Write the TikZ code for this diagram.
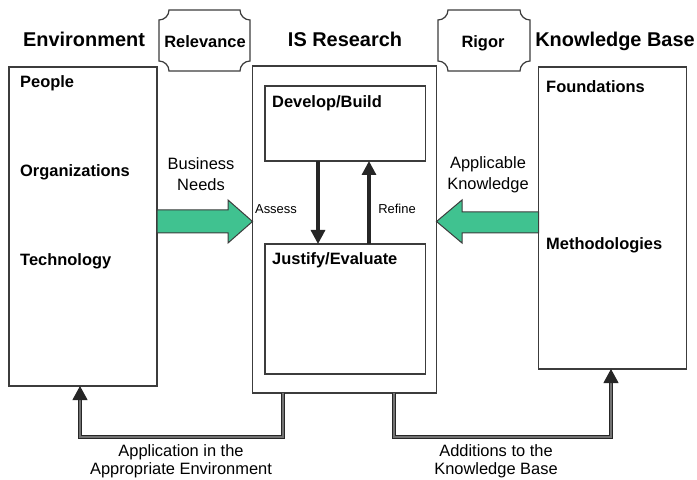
\documentclass[tikz,border=0pt]{standalone}
\usepackage{fontspec}
\setmainfont{Liberation Sans}
\usetikzlibrary{arrows.meta}
\definecolor{arrowgreen}{RGB}{64,194,144}
\definecolor{linegray}{RGB}{60,60,60}
\newcommand\tagshape[4]{\draw[tag] (#1+10,#2) -- (#3-10,#2) arc[start angle=180,end angle=90,radius=10] -- (#3,#4-10) arc[start angle=270,end angle=180,radius=10] -- (#1+10,#4) arc[start angle=0,end angle=-90,radius=10] -- (#1,#2+10) arc[start angle=90,end angle=0,radius=10] -- cycle;}
\begin{document}
\begin{tikzpicture}[x=1bp,y=-1bp,
  box/.style={draw=linegray, line width=1.4bp, inner sep=0pt, outer sep=0pt},
  tag/.style={draw=linegray, line width=1.2bp, fill=white},
  lbl/.style={font=\fontsize{16.5}{18}\selectfont\bfseries, inner sep=0pt},
  title/.style={font=\fontsize{20}{22}\selectfont\bfseries, inner sep=0pt, anchor=base},
  plain/.style={font=\fontsize{16.5}{18.5}\selectfont, inner sep=0pt, align=center},
  airy/.style={font=\fontsize{16.5}{21}\selectfont, inner sep=0pt, align=center},
  small/.style={font=\fontsize{13}{15}\selectfont, inner sep=0pt, anchor=base},
  fatarrow/.style={fill=arrowgreen, draw=linegray, line width=1bp},
  inner/.style={draw=black!85, line width=3.2bp, -{Triangle[length=14bp,width=14bp]}},
  conn/.style={draw=black!85, double=black!55, double distance=1.2bp, line width=1bp, -{Triangle[length=14bp,width=15bp]}},
]
\useasboundingbox (0,0) rectangle (697,480);
% boxes
\node[box, minimum width=148bp, minimum height=319bp] (env) at (83,226.5) {};
\node[box, minimum width=184bp, minimum height=327bp] (isr) at (344.5,229.5) {};
\node[box, minimum width=160.5bp, minimum height=75bp] (dev) at (345.25,123.5) {};
\node[box, minimum width=160.5bp, minimum height=130bp] (just) at (345.25,309) {};
\node[box, minimum width=148bp, minimum height=302bp] (kb) at (612.5,218) {};
% tag boxes
\tagshape{159}{10}{250}{71}
\tagshape{438}{10}{530}{71}
\node[lbl, anchor=base] (rel) at (205,48) {Relevance};
\node[lbl, anchor=base] (rig) at (483,48) {Rigor};
% titles
\node[title] (tenv) at (84,47) {Environment};
\node[title] (tisr) at (345,47) {IS Research};
\node[title] (tkb) at (615,47) {Knowledge Base};
% labels in boxes
\node[lbl, anchor=base west] (people) at (20,88) {People};
\node[lbl, anchor=base west] (org) at (20,177) {Organizations};
\node[lbl, anchor=base west] (tech) at (20,266) {Technology};
\node[lbl, anchor=base west] (found) at (546,93) {Foundations};
\node[lbl, anchor=base west] (meth) at (546,250) {Methodologies};
\node[lbl, anchor=base west] (tdev) at (272,108) {Develop/Build};
\node[lbl, anchor=base west] (tjust) at (272,265) {Justify/Evaluate};
% green arrows
\draw[fatarrow] (env.east |- 0,210) -- (228,210) -- (228,200) -- (isr.west |- 0,221.5) -- (228,243) -- (228,233) -- (env.east |- 0,233) -- cycle;
\draw[fatarrow] (kb.west |- 0,212) -- (462,212) -- (462,200) -- (isr.east |- 0,221.5) -- (462,243) -- (462,233) -- (kb.west |- 0,233) -- cycle;
\node[airy] (bn) at (201,174.5) {Business\\Needs};
\node[airy] (ak) at (488,174.5) {Applicable\\Knowledge};
% inner arrows
\coordinate (ax) at (318,0);
\coordinate (rx) at (369,0);
\draw[inner] (dev.south -| ax) -- (just.north -| ax);
\draw[inner] (just.north -| rx) -- (dev.south -| rx);
\node[small] (assess) at (276,214) {Assess};
\node[small] (refine) at (397,214) {Refine};
% bottom connectors
\coordinate (c1) at (283,0);
\coordinate (c2) at (80,437);
\coordinate (c3) at (394,0);
\coordinate (c4) at (611,437);
\draw[conn] (isr.south -| c1) |- (c2) -- (env.south -| c2);
\draw[conn] (isr.south -| c3) |- (c4) -- (kb.south -| c4);
\node[plain] (app) at (181,461) {Application in the\\Appropriate Environment};
\node[plain] (add) at (496,461) {Additions to the\\Knowledge Base};
\end{tikzpicture}
\end{document}
